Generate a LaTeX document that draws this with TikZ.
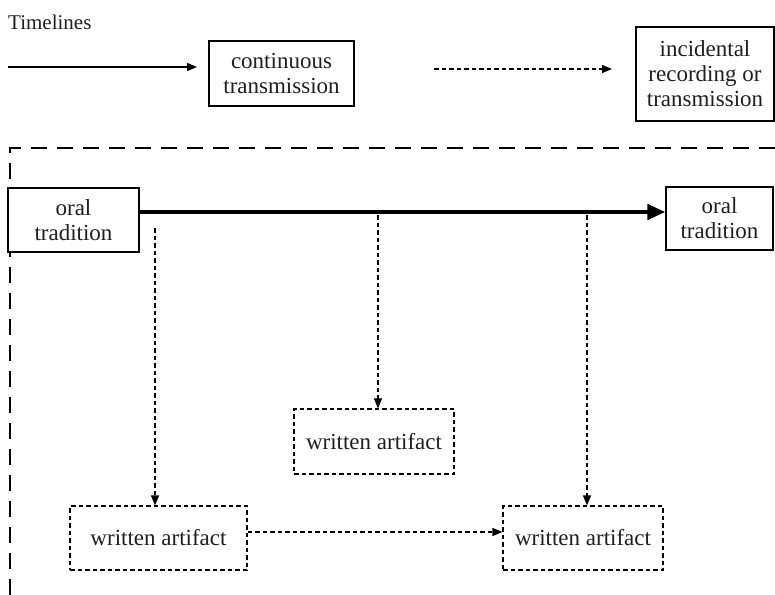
\documentclass[tikz,border=0pt]{standalone}
\usepackage{fontspec}
\setmainfont{Liberation Serif}
\usetikzlibrary{arrows.meta}
\begin{document}
\begin{tikzpicture}[x=1pt,y=-1pt,
  txt/.style={font=\fontsize{23}{25}\selectfont, text=black!88, align=center, inner sep=0pt},
  solidbox/.style={txt, draw=black, line width=1.1pt},
  dashbox/.style={txt, draw=black, line width=1.1pt, dash pattern=on 4.5pt off 3pt},
  thin/.style={line width=1.2pt},
  dotline/.style={line width=1.1pt, dash pattern=on 4.5pt off 3pt},
  tip/.style={-{Triangle[length=10pt,width=8pt]}},
  bigtip/.style={-{Triangle[length=18pt,width=15pt]}},
  frame/.style={line width=2.6pt, dash pattern=on 16pt off 10pt}
]
\useasboundingbox (0,0) rectangle (775,594);

\node[txt, font=\fontsize{21}{25}\selectfont, anchor=west] (title) at (8,22) {Timelines};

% legend
\node[solidbox, minimum width=145pt, minimum height=65pt] (cont) at (281.5,73.5) {continuous\\transmission};
\node[solidbox, minimum width=138pt, minimum height=94pt] (inc) at (705,74) {incidental\\recording or\\transmission};
\coordinate (l1s) at (8,67);
\coordinate (l1e) at (197,67);
\coordinate (l2s) at (434,69);
\coordinate (l2e) at (612,69);
\draw[thin, tip] (l1s) -- (l1e);
\draw[dotline, tip] (l2s) -- (l2e);

% frame
\coordinate (fr1) at (775,148);
\coordinate (fr2) at (10,148);
\coordinate (fr3) at (10,600);
\draw[frame] (fr1) -- (fr2) -- (fr3);

% main timeline
\node[solidbox, fill=white, minimum width=131pt, minimum height=64pt] (oralL) at (73.5,220) {oral\\tradition};
\node[solidbox, minimum width=107pt, minimum height=63pt] (oralR) at (719.5,218.5) {oral\\tradition};
\draw[line width=4.5pt, bigtip] (oralL.east |- 0,212) -- (oralR.west |- 0,212);

% written artifacts
\node[dashbox, minimum width=177pt, minimum height=64pt] (w1) at (158.5,538) {written artifact};
\node[dashbox, minimum width=160pt, minimum height=65pt] (w2) at (374,441.5) {written artifact};
\node[dashbox, minimum width=160pt, minimum height=64pt] (w3) at (583,538) {written artifact};

\coordinate (s1) at (155,228);
\coordinate (s2) at (378,215);
\coordinate (s3) at (587,215);
\draw[dotline, tip] (s1) -- (s1 |- w1.north);
\draw[dotline, tip] (s2) -- (s2 |- w2.north);
\draw[dotline, tip] (s3) -- (s3 |- w3.north);
\draw[dotline, tip] (w1.east |- 0,532) -- (w3.west |- 0,532);
\end{tikzpicture}
\end{document}
